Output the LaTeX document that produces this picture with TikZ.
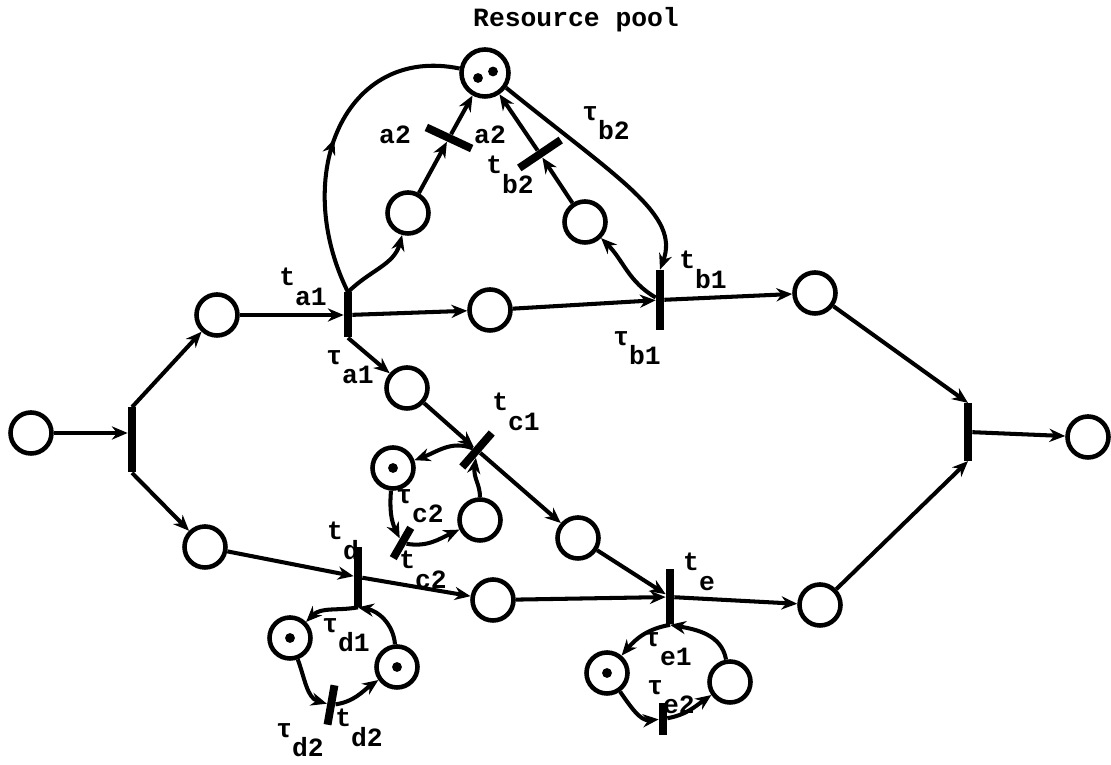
\documentclass[tikz,border=0pt]{standalone}
\usepackage{fontspec}
\setmainfont{Liberation Mono}
\usetikzlibrary{arrows.meta,decorations.markings}

\newcommand{\sublab}[2]{#1\raisebox{-1.4ex}{#2}}

\begin{document}
\begin{tikzpicture}[x=1cm,y=1cm,>={Stealth[length=9pt,width=7.5pt]},
  place/.style={circle,draw,line width=2.6pt,minimum size=0.82cm,inner sep=0pt},
  tokplace/.style={place,path picture={\fill (path picture bounding box.center) circle (2.8pt);}},
  tbar/.style={fill,minimum width=4.5pt,inner sep=0pt},
  flow/.style={->,line width=2.3pt},
  noarr/.style={line width=2.3pt},
  midarrow/.style={noarr,postaction={decorate},decoration={markings,mark=at position 0.5 with {\arrow{>}}}},
  lab/.style={font=\fontsize{15}{17}\selectfont\bfseries,inner sep=0pt}]
\useasboundingbox (0,0) rectangle (22.22,15.3);

\node[place] (p0) at (0.62,6.64) {};
\node[place] (pA) at (4.34,9.00) {};
\node[place] (pB) at (4.10,4.36) {};
\node[place] (pM) at (9.80,9.10) {};
\node[place] (pC) at (16.30,9.44) {};
\node[place] (pD) at (16.40,3.20) {};
\node[place] (pEnd) at (21.76,6.56) {};
\node[place] (pa2) at (8.16,11.04) {};
\node[place] (pb2) at (11.70,10.86) {};
\node[place] (pTa1) at (8.14,7.54) {};
\node[place] (pX) at (11.56,4.54) {};
\node[place] (pY) at (9.86,3.30) {};
\node[tokplace] (pcTok) at (7.86,5.94) {};
\node[place] (pc2) at (9.60,4.90) {};
\node[tokplace] (pd1) at (5.80,2.54) {};
\node[tokplace] (pd2) at (7.94,1.96) {};
\node[tokplace] (pe1) at (12.14,1.84) {};
\node[place] (pe2) at (14.60,1.66) {};
\node[place,minimum size=0.94cm,path picture={
  \fill ([xshift=-0.14cm,yshift=-0.1cm]path picture bounding box.center) circle (2.8pt);
  \fill ([xshift=0.16cm,yshift=0.03cm]path picture bounding box.center) circle (2.8pt);}] (pool) at (9.70,13.84) {};

\node[tbar,minimum height=1.3cm] (T0) at (2.64,6.50) {};
\node[tbar,minimum height=0.9cm] (ta1) at (6.96,9.00) {};
\node[tbar,minimum height=1.2cm] (tb1) at (13.20,9.30) {};
\node[tbar,minimum height=1.15cm] (Tend) at (19.36,6.66) {};
\node[tbar,minimum height=1.0cm,rotate=65] (ta2) at (8.98,12.54) {};
\node[tbar,minimum height=1.0cm,rotate=-56] (tb2) at (10.80,12.22) {};
\node[tbar,minimum height=0.9cm,rotate=-41] (tc1) at (9.54,6.30) {};
\node[tbar,minimum height=0.7cm,rotate=-30] (tc2) at (8.04,4.44) {};
\node[tbar,minimum height=1.2cm] (td) at (7.16,3.76) {};
\node[tbar,minimum height=1.1cm] (te) at (13.40,3.36) {};
\node[tbar,minimum height=0.8cm,rotate=-10] (td2) at (6.62,1.20) {};
\node[tbar,minimum height=0.65cm] (te2) at (13.26,0.92) {};

\node[lab] (lpool) at (11.52,14.90) {Resource pool};
\node[lab] (lta1) at (6.06,9.56) {\sublab{t}{a1}};
\node[lab] (lua1) at (7.00,7.96) {\sublab{τ}{a1}};
\node[lab] (la2l) at (7.90,12.60) {a2};
\node[lab] (la2r) at (9.80,12.60) {a2};
\node[lab] (ltb2) at (10.20,11.80) {\sublab{t}{b2}};
\node[lab] (lub2) at (12.12,12.84) {\sublab{τ}{b2}};
\node[lab] (ltb1) at (14.06,9.90) {\sublab{t}{b1}};
\node[lab] (lub1) at (12.74,8.34) {\sublab{τ}{b1}};
\node[lab] (ltc1) at (10.32,7.06) {\sublab{t}{c1}};
\node[lab] (luc2) at (8.40,5.18) {\sublab{τ}{c2}};
\node[lab] (ltc2) at (8.46,3.90) {\sublab{t}{c2}};
\node[lab] (ltd) at (6.86,4.48) {\sublab{t}{d}};
\node[lab] (lud1) at (6.92,2.60) {\sublab{τ}{d1}};
\node[lab] (ltd2) at (7.18,0.74) {\sublab{t}{d2}};
\node[lab] (lud2) at (6.00,0.50) {\sublab{τ}{d2}};
\node[lab] (lte) at (13.98,3.86) {\sublab{t}{e}};
\node[lab] (lue1) at (13.36,2.32) {\sublab{τ}{e1}};
\node[lab] (lue2) at (13.42,1.36) {\sublab{τ}{e2}};

\draw[flow] (p0) -- (T0.west |- p0);
\draw[flow] (T0.north) -- (pA);
\draw[flow] (T0.south) -- (pB);
\draw[flow] (pA) -- (ta1);
\draw[flow] (ta1) -- (pM);
\draw[flow] (pM) -- (tb1);
\draw[flow] (tb1) -- (pC);
\draw[flow] (pC) -- (Tend.north);
\draw[flow] (pD) -- (Tend.south);
\draw[flow] (Tend) -- (pEnd);
\draw[flow] (ta1.south) -- (pTa1);
\draw[flow] (pTa1) -- (tc1);
\draw[flow] (tc1) -- (pX);
\draw[flow] (pX) -- (te);
\draw[flow] (pB) -- (td);
\draw[flow] (td) -- (pY);
\draw[flow] (pY) -- (te);
\draw[flow] (te) -- (pD);

\draw[midarrow] (ta1.north) .. controls (5.8,11.8) and (6.9,14.4) .. (pool.170);
\draw[flow] (pool.-35) .. controls (12.4,11.7) and (13.6,11.0) .. (tb1.north);
\draw[flow] (ta1.north) to[out=45,in=-105] (pa2);
\draw[flow] (pa2) -- (ta2);
\draw[flow] (ta2) -- (pool);
\draw[flow] (tb1) to[out=150,in=-45] (pb2);
\draw[flow] (pb2) -- (tb2);
\draw[flow] (tb2) -- (pool);

\draw[flow] (tc1) to[out=165,in=20] (pcTok);
\draw[flow] (pcTok) to[out=-95,in=125] (tc2);
\draw[flow] (tc2) to[out=-5,in=205] (pc2);
\draw[flow] (pc2) to[out=90,in=-75] (tc1);

\draw[flow] (td.south) to[out=190,in=45] (pd1);
\draw[flow] (pd1) to[out=-70,in=165] (td2);
\draw[flow] (td2) to[out=10,in=215] (pd2);
\draw[flow] (pd2) to[out=95,in=-10] (td.south);

\draw[flow] (te.south) to[out=190,in=50] (pe1);
\draw[flow] (pe1) to[out=-55,in=185] (te2);
\draw[flow] (te2) to[out=10,in=215] (pe2);
\draw[flow] (pe2) to[out=100,in=-10] (te.south);
\end{tikzpicture}
\end{document}
